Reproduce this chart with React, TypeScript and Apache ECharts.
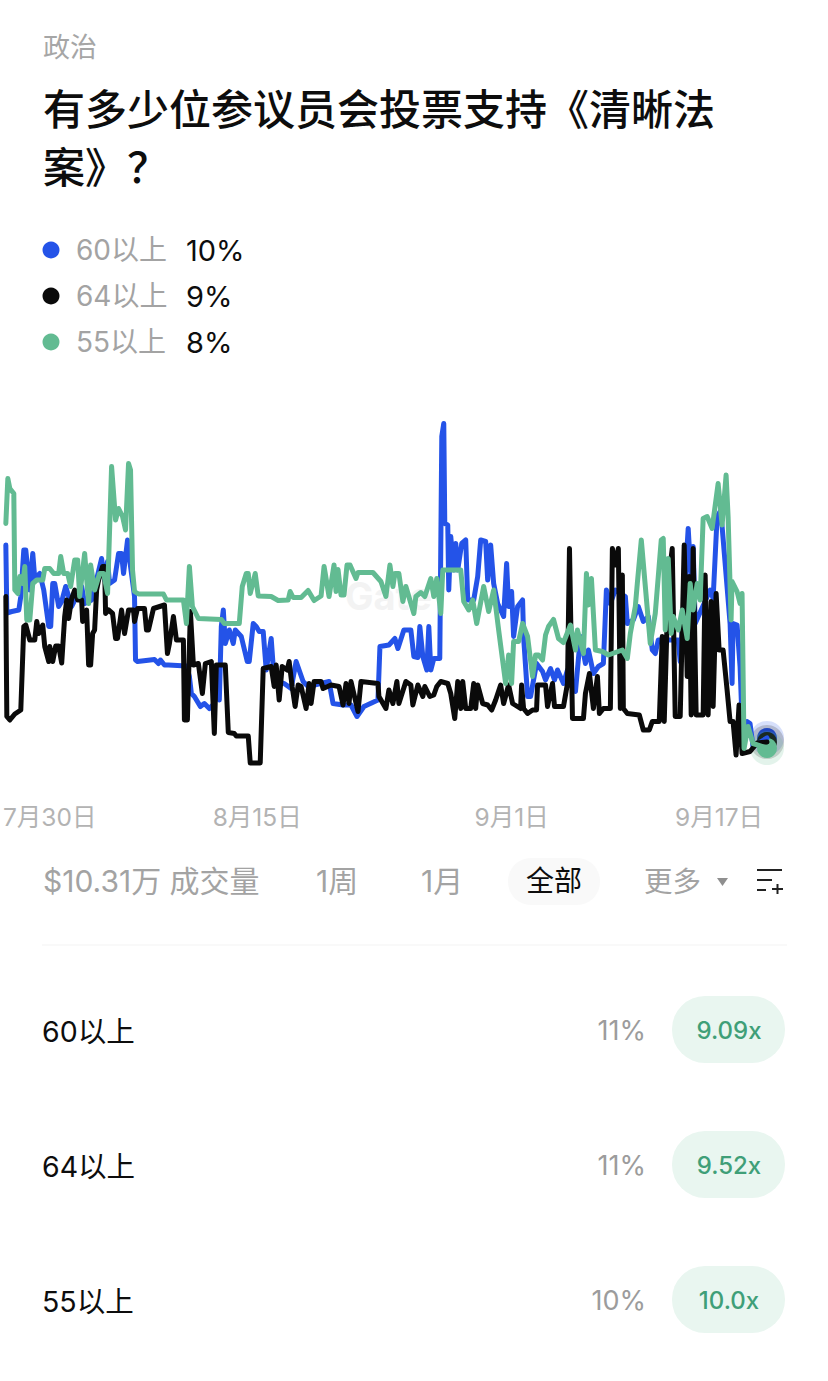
import React, { useEffect, useRef } from "react";
import * as echarts from "echarts";

const FONT = "Inter, 'Noto Sans CJK SC', sans-serif";

const categoryLabel = "政治";
const titleLines = ["有多少位参议员会投票支持《清晰法", "案》？"];
const outcomeNames = ["60以上", "64以上", "55以上"];
const outcomeNow = ["10%", "9%", "8%"];
const outcomeBuy = ["11%", "11%", "10%"];
const outcomePayout = ["9.09x", "9.52x", "10.0x"];
const colors = ["#2453e8", "#0a0a0a", "#62bb92"];
const tickPositions = [44, 252, 507, 715];
const tickLabels = ["7月30日", "8月15日", "9月1日", "9月17日"];
const volumeText = "$10.31万 成交量";
const rangeTabs = ["1周", "1月", "全部", "更多"];
const watermark = "Gate";

const series60: [number, number][] = [
  [0,48.6],[1,35],[6,35.3],[13,35.6],[15,38.3],[18,47.6],[20,47.6],[24,39.6],[27,46.9],[29,41.9],[34,42.9],[38,39.6],[43,32.3],[45,32.3],[47,40.9],[49,40.9],[53,36.3],[56,37.3],[60,40.3],[66,36.3],[76,40.3],[79,36.9],[86,37.6],[96,45.9],[99,41.6],[102,45.3],[104,40.9],[109,41.6],[113,46.9],[116,46.9],[118,42.9],[122,49.6],[125,44.3],[129,38.3],[130,25.6],[132,25.3],[149,25.7],[153,24.9],[155,25.6],[159,24.6],[163,24.6],[181,24.4],[184,22.3],[186,18.9],[189,18.3],[195,16.3],[199,16.9],[204,15.9],[209,16.9],[211,23.6],[214,17.6],[216,32.3],[218,35.6],[220,28.9],[224,31.6],[228,28.9],[230,31.6],[236,30.3],[242,25.3],[244,25.3],[248,32.9],[251,32.3],[254,31.3],[258,31.3],[261,23.6],[266,29.9],
  [269,21.6],[279,20.9],[286,19.9],[291,25.3],[298,21.3],[303,20.3],[324,21.3],[328,16.9],[338,16.6],[346,16.6],[352,14.3],[359,16.3],[373,17.6],[375,28.3],[384,28.6],[390,29.9],[393,27.9],[399,31.6],[406,31.6],[409,26.3],[413,26.1],[415,32.3],[418,26.3],[422,23.6],[424,32.3],[426,23.6],[429,25.9],[435,25.9],[437,70.3],[439,72.9],[440,52.9],[443,52.6],[444,39.6],[446,50.3],[449,43.6],[451,48.9],[453,43.6],[457,48.9],[461,49.6],[463,37.6],[469,37.6],[473,42.3],[476,49.6],[481,49.3],[483,41.6],[486,48.6],[489,40.9],[493,36.9],[499,34.3],[502,44.9],[504,36.3],[507,39.3],[509,30.3],[513,36.3],[518,37.6],[519,30.3],[523,18.3],[526,18.3],[532,24.9],[538,23.3],[541,21.6],
  [546,23.9],[550,21.6],[553,23.6],[559,20.9],[563,23.6],[571,19.3],[576,30.3],[581,24.9],[584,27.6],[589,22.9],[594,24.3],[599,24.9],[602,39.6],[606,36.9],[611,39.6],[621,38.3],[623,32.9],[629,33.6],[634,36.3],[639,33.3],[644,34.3],[648,27.6],[651,26.9],[654,29.6],[674,29.6],[676,25.3],[684,51.9],[687,41.6],[689,48.3],[691,32.9],[706,39.6],[709,37.9],[713,54.3],[716,55.3],[718,52.3],[726,32.9],[728,20.9],[729,32.9],[733,32.6],[736,24.3],[739,7.9],[743,13.3],[746,12.9],[749,8.3],[763,10],
];

const series64: [number, number][] = [
  [0,38.3],[1,14.3],[4,13.6],[9,14.8],[15,15.6],[18,32.3],[20,32.6],[24,29.6],[29,29.6],[31,33.3],[33,30.9],[37,32.6],[39,28.3],[43,25.3],[44,28.3],[47,25.3],[50,28.4],[53,28.4],[56,25],[59,34.3],[61,37.6],[63,33.9],[66,37.9],[69,39.6],[72,37.6],[76,37.6],[77,33.3],[81,35.6],[83,24.6],[85,24.6],[87,30.9],[89,31.6],[91,39.6],[93,41.6],[97,44.3],[99,44.3],[100,34.9],[103,35.6],[107,34.9],[110,29.9],[112,29.9],[116,35.6],[119,30.9],[123,35.6],[128,35.6],[129,33.3],[132,35.9],[139,35.9],[141,31.6],[143,31.6],[148,35.9],[159,36.6],[162,26.9],[164,28.9],[168,34.3],[171,29.6],[178,29.6],[179,13.6],[182,13.6],[185,35.3],[188,24.6],[193,24.9],[197,18.9],[200,24.9],[206,25.3],[209,10.9],[211,24.6],[220,24.6],[223,11.1],[229,10.9],[231,10.4],[243,10.4],[245,5],[255,5],[258,23.9],[266,24.3],
  [269,20.3],[271,24.6],[274,17.6],[277,24.3],[282,23.6],[284,25.3],[287,20.3],[290,16.3],[293,20.6],[296,20.3],[301,15.9],[304,20.9],[306,16.9],[309,21.3],[316,21.3],[318,19.9],[326,20.6],[334,20.3],[338,16.6],[341,20.9],[344,16.9],[346,21.3],[353,15.3],[356,21.3],[373,20.9],[374,18.3],[381,15.9],[384,19.6],[388,16.9],[392,21.3],[394,16.9],[401,21.3],[406,20.6],[408,16.6],[413,20.6],[418,18.3],[420,20.3],[425,18.3],[429,18.6],[432,20.3],[436,21.3],[443,20.9],[446,18.9],[450,13.9],[453,21.3],[456,15.9],[458,21.3],[461,15.9],[466,15.9],[469,20.9],[471,15.9],[473,20.6],[478,16.9],[483,16.6],[487,15.6],[491,17.6],[496,20.6],[499,16.9],[504,20.6],[508,16.9],[516,15.9],[517,20.6],[519,15.9],[523,14.9],[528,15.6],[532,15.6],[533,20.6],[536,20.6],
  [541,20.6],[543,16.3],[548,20.9],[550,16.3],[559,16.3],[563,20.9],[565,47.9],[568,13.9],[579,13.9],[581,18.9],[585,22.9],[589,15.9],[593,22.3],[595,14.9],[599,15.9],[606,15.9],[608,47.9],[611,44.6],[614,47.9],[616,15.9],[618,42.6],[619,15.9],[623,14.9],[635,14.6],[639,11.6],[645,11.6],[648,13.3],[655,13.3],[658,30.3],[660,13.3],[664,41],[668,47.9],[671,14.3],[676,14.3],[680,48.6],[683,22.3],[685,42.3],[687,14.6],[689,47.9],[692,14.6],[699,14.6],[701,42.6],[704,14.6],[707,37.3],[709,16.3],[712,38.9],[715,27.6],[719,27.6],[723,19.6],[726,13.3],[729,13.3],[732,6.6],[735,16.6],[738,6.9],[746,7.3],[753,9],[763,9.2],
];

const series55: [number, number][] = [
  [0,52.9],[2,61.9],[4,59.9],[8,58.9],[9,39.6],[12,38.9],[14,42.3],[17,40.9],[19,44.3],[21,33.6],[24,33.6],[27,40.9],[31,41.6],[37,41.6],[39,43.9],[44,43.9],[48,42.9],[53,42.9],[55,46.3],[58,42.9],[62,42.9],[65,40.3],[69,45.6],[72,45.6],[74,38.3],[79,46.9],[83,36.9],[85,44.6],[89,39.6],[94,42.9],[98,42.9],[102,38.9],[106,64.3],[110,53.6],[113,55.9],[117,54.3],[120,51.6],[123,64.9],[125,63.6],[127,43.6],[129,39.3],[133,38.8],[158,38.8],[161,37.6],[178,37.6],[181,32.9],[184,44.3],[187,36.3],[193,33.9],[216,33.7],[219,32.9],[234,32.9],[237,40.3],[241,42.9],[243,42.9],[245,38.9],[250,42.9],[253,38.4],[266,38.3],
  [273,37.5],[283,37.6],[285,39.3],[288,38.1],[296,38.1],[303,39.5],[309,37.5],[316,38.4],[319,44.3],[324,38.3],[329,44.6],[331,39.3],[333,43.7],[336,38.6],[339,38.6],[342,44.6],[345,44.6],[351,41.9],[353,43.1],[368,43.1],[376,41.3],[381,38.3],[385,44.6],[388,40.3],[390,42.9],[394,42.9],[398,37.3],[401,40.3],[409,34.9],[411,38.3],[416,39.1],[420,38.3],[426,41.9],[429,38.3],[432,41.9],[436,34.9],[438,43.6],[456,43.6],[459,37.3],[464,35.6],[468,37.6],[472,32.9],[479,40.3],[484,35.3],[489,39.6],[494,31.6],[501,20.9],[504,26.6],[507,20.9],[509,29.3],[514,29.3],[518,32.9],[523,30.3],[528,22.3],[531,26.6],[534,26.6],[538,25.6],
  [541,30.6],[544,32.3],[549,33.7],[554,29.9],[559,29.1],[566,32.6],[571,27.6],[573,31.6],[579,26.9],[582,42.9],[584,36.6],[587,41.9],[591,27.6],[598,27.3],[604,26.6],[618,27.6],[623,25.9],[626,30.9],[631,36.3],[633,40.9],[637,49.6],[646,28.9],[651,34.9],[657,49.6],[659,49.9],[661,31.6],[664,45.9],[667,30.9],[669,34.3],[674,31.6],[678,35.6],[683,29.9],[686,40.9],[689,35.6],[693,40.9],[696,37.6],[699,53.9],[703,54.3],[708,51.9],[714,60.9],[718,52.6],[722,62.6],[724,54.3],[727,33.6],[728,41.3],[733,39.3],[736,36.9],[738,38.9],[740,7.9],[744,12.3],[749,8.9],[763,8],
];

const seriesData = [series60, series64, series55];

function text(x: number, y: number, s: string, size: number, fill: string, opts: any = {}) {
  return {
    type: "text",
    x,
    y,
    z: opts.z ?? 10,
    silent: true,
    style: {
      text: s,
      fontSize: size,
      fontFamily: FONT,
      fill,
      textAlign: opts.align || "left",
      textVerticalAlign: "middle",
      textBaseline: "middle",
      fontWeight: opts.weight || 400,
    },
  };
}

export default function App() {
  const ref = useRef<HTMLDivElement>(null);
  useEffect(() => {
    document.body.style.margin = "0";
    document.body.style.background = "#fff";
    const chart = echarts.init(ref.current!, null, { renderer: "svg" });
    const gray = "#a3a3a3";
    const graphic: any[] = [];
    graphic.push(text(43, 47, categoryLabel, 27, "#a6a6a6"));
    titleLines.forEach((t, i) => graphic.push(text(43, 109 + i * 58, t, 42, "#0d0d0d", { weight: 500 })));
    outcomeNames.forEach((n, i) => {
      const y = 250 + i * 46;
      graphic.push({ type: "circle", silent: true, shape: { cx: 51, cy: y, r: 8.5 }, style: { fill: colors[i] } });
      graphic.push(text(76, y, n, 28, "#a3a3a3"));
      graphic.push(text(186, y, outcomeNow[i], 29, "#0d0d0d"));
    });
    graphic.push(text(43, 881, volumeText, 30, gray));
    graphic.push(text(316, 881, rangeTabs[0], 30, gray));
    graphic.push(text(421, 881, rangeTabs[1], 30, gray));
    graphic.push({ type: "rect", silent: true, shape: { x: 508, y: 858, width: 92, height: 47, r: 23 }, style: { fill: "#f9f9f9" } });
    graphic.push(text(526, 881, rangeTabs[2], 28, "#0d0d0d"));
    graphic.push(text(644, 881, rangeTabs[3], 28.5, gray));
    graphic.push({ type: "polygon", silent: true, shape: { points: [[717, 878], [728, 878], [722.5, 886]] }, style: { fill: "#8f8f8f" } });
    const iconStroke = { stroke: "#222", lineWidth: 2 };
    [[757, 870, 782, 870], [757, 880, 772, 880], [757, 890, 766, 890], [772, 889, 783, 889], [777.5, 884, 777.5, 894]].forEach((l) =>
      graphic.push({ type: "line", silent: true, shape: { x1: l[0], y1: l[1], x2: l[2], y2: l[3] }, style: iconStroke })
    );
    graphic.push({ type: "line", silent: true, shape: { x1: 42, y1: 945, x2: 787, y2: 945 }, style: { stroke: "#f3f3f3", lineWidth: 1 } });
    outcomeNames.forEach((n, i) => {
      const y = 1030 + i * 135;
      graphic.push(text(42, y + 1, n, 28.5, "#0d0d0d"));
      graphic.push(text(646, y, outcomeBuy[i], 27, "#9c9c9c", { align: "right" }));
      graphic.push({ type: "rect", silent: true, shape: { x: 672, y: y - 34, width: 113, height: 67, r: 33 }, style: { fill: "#e9f6f0" } });
      graphic.push(text(729, y, outcomePayout[i], 24, "#3f9f78", { align: "center", weight: 500 }));
    });
    graphic.push(text(345, 596, watermark, 38, "#f3f3f3", { weight: 700, z: 0 }));

    chart.setOption({
      animation: false,
      backgroundColor: "#fff",
      grid: { left: 4, right: 61, top: 388, height: 400, containLabel: false },
      xAxis: {
        type: "value",
        min: 0,
        max: 763,
        axisLine: { show: false },
        axisTick: { show: false },
        splitLine: { show: false },
        axisLabel: {
          customValues: tickPositions,
          formatter: (v: number) => tickLabels[tickPositions.indexOf(v)] ?? "",
          color: "#b3b3b3",
          fontSize: 24.5,
          fontFamily: FONT,
          margin: 17,
          hideOverlap: false,
        },
      },
      yAxis: { type: "value", min: 0, max: 80, show: false },
      graphic,
      series: seriesData.map((d, i) => ({
        type: "line",
        name: outcomeNames[i],
        data: d,
        showSymbol: false,
        symbol: "none",
        z: 5,
        lineStyle: { color: colors[i], width: 5, join: "round", cap: "round" },
        markPoint: {
          silent: true,
          animation: false,
          label: { show: false },
          data: [
            { coord: d[d.length - 1], symbol: "circle", symbolSize: 34, itemStyle: { color: colors[i], opacity: 0.18 } },
            { coord: d[d.length - 1], symbol: "circle", symbolSize: 20, itemStyle: { color: colors[i] } },
          ],
        },
      })),
    });
    return () => chart.dispose();
  }, []);
  return <div ref={ref} style={{ width: 828, height: 1381 }} />;
}
